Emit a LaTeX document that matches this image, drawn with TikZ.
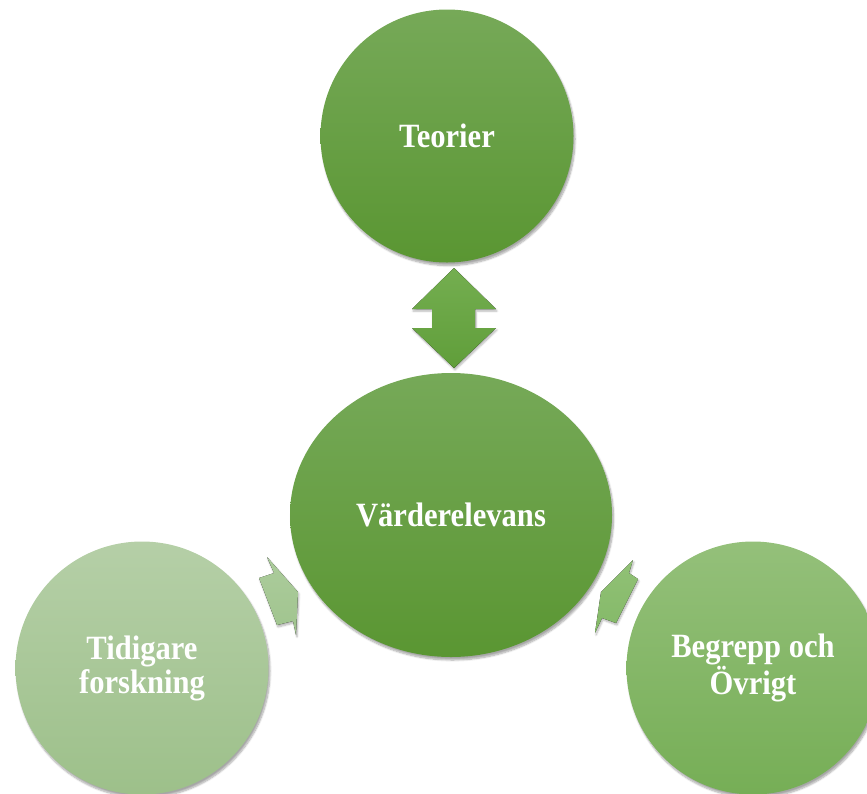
\documentclass[tikz,border=0pt]{standalone}
\usepackage{fontspec}
\setmainfont{Liberation Serif}
\newfontfamily\labelfont{Liberation Serif}[FakeStretch=0.9]
\usetikzlibrary{shapes.geometric,shadows.blur}
\definecolor{gTop}{RGB}{118,169,88}
\definecolor{gBot}{RGB}{90,150,50}
\definecolor{lTop}{RGB}{181,207,167}
\definecolor{lBot}{RGB}{157,192,138}
\definecolor{rTop}{RGB}{148,192,122}
\definecolor{rBot}{RGB}{118,174,86}
\definecolor{aTop}{RGB}{116,174,80}
\definecolor{aBot}{RGB}{96,158,58}
\definecolor{laTop}{RGB}{172,204,156}
\definecolor{laBot}{RGB}{160,196,142}
\definecolor{raTop}{RGB}{145,193,118}
\definecolor{raBot}{RGB}{132,185,104}
\tikzset{
  bubble/.style={circle, inner sep=0pt, minimum size=253pt, text=white,
    font=\labelfont\fontsize{34}{34}\selectfont\bfseries, align=center,
    blur shadow={shadow xshift=1.5pt, shadow yshift=-3pt, shadow blur steps=8, shadow opacity=35}},
  greenfill/.style={top color=gTop, bottom color=gBot},
  arrowshadow/.style={blur shadow={shadow xshift=1pt, shadow yshift=-2pt, shadow blur steps=6, shadow opacity=30}},
}
\begin{document}
\begin{tikzpicture}[x=1pt,y=-1pt]
\useasboundingbox (0,0) rectangle (867,793);
% arrows
\fill[top color=aTop, bottom color=aBot, arrowshadow]
  (454,268) -- (496,309) -- (475,309) -- (475,328) -- (496,328) -- (454,368)
  -- (412,328) -- (432,328) -- (432,309) -- (412,309) -- cycle;
\fill[top color=laTop, bottom color=laBot, arrowshadow]
  (267,557) -- (274,573) -- (259,578) -- (277,625) -- (293,621) -- (296,635) -- (298,592) -- cycle;
\fill[top color=raTop, bottom color=raBot, arrowshadow]
  (633,560) -- (629,573) -- (638,579) -- (616,623) -- (602,618) -- (595,633) -- (601,592) -- cycle;
% circles
\node[bubble, greenfill] (teorier) at (447,136) {Teorier};
\node[bubble, greenfill, ellipse, minimum width=322pt, minimum height=284pt] (varde) at (451,515) {Värderelevans};
\node[bubble, top color=lTop, bottom color=lBot] (tidigare) at (142,668) {Tidigare\\forskning};
\node[bubble, top color=rTop, bottom color=rBot] (begrepp) at (753,668) {Begrepp och\\Övrigt};
\end{tikzpicture}
\end{document}
